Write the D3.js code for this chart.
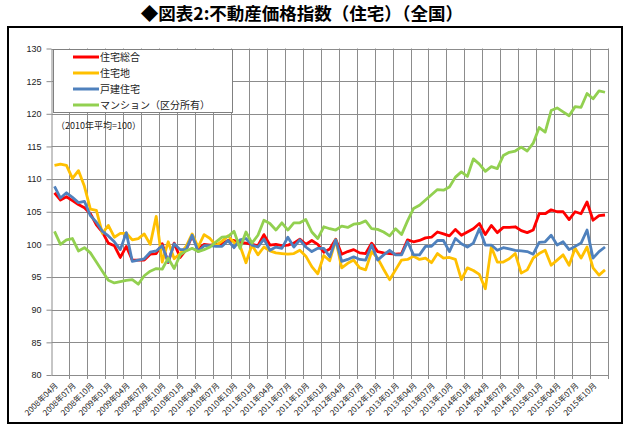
<!DOCTYPE html>
<html>
<head>
<meta charset="utf-8">
<script src="https://d3js.org/d3.v7.min.js"></script>
<style>
  body { margin: 0; background: #fff; }
  svg text { font-family: "Noto Sans CJK JP", "Liberation Sans", sans-serif; }
</style>
</head>
<body>
<div id="chart"></div>
<script>
// 2008年04月 .. 2015年12月 (93 months)
const months = d3.timeMonth.range(new Date(2008, 3, 1), new Date(2016, 0, 1));

const tickLabels = [
  "2008年04月", "2008年07月", "2008年10月", "2009年01月", "2009年04月", "2009年07月",
  "2009年10月", "2010年01月", "2010年04月", "2010年07月", "2010年10月", "2011年01月",
  "2011年04月", "2011年07月", "2011年10月", "2012年01月", "2012年04月", "2012年07月",
  "2012年10月", "2013年01月", "2013年04月", "2013年07月", "2013年10月", "2014年01月",
  "2014年04月", "2014年07月", "2014年10月", "2015年01月", "2015年04月", "2015年07月",
  "2015年10月"
];
const yTicks = [80, 85, 90, 95, 100, 105, 110, 115, 120, 125, 130];

const sogo = [
  107.9, 106.8, 107.3, 106.7, 106.1, 105.6, 104.7, 103.0, 101.9, 100.2,
  99.8, 98.0, 99.7, 97.6, 97.6, 97.6, 98.5, 98.6, 100.1, 97.2,
  100.2, 98.0, 99.2, 101.3, 99.3, 100.0, 99.9, 100.0, 100.1, 100.6,
  100.6, 100.3, 100.2, 100.0, 99.8, 101.5, 99.9, 100.0, 99.8, 99.9,
  100.2, 100.8, 100.0, 100.6, 100.0, 98.8, 99.3, 100.8, 98.5, 98.9,
  99.2, 98.7, 98.6, 100.2, 98.9, 98.7, 98.6, 98.5, 98.6, 100.7,
  100.4, 100.6, 101.0, 101.1, 101.9, 101.6, 101.3, 102.3, 101.4, 101.9,
  102.4, 103.2, 101.5, 102.9, 101.8, 102.6, 102.6, 102.7, 102.1, 101.8,
  102.2, 104.7, 104.7, 105.3, 105.0, 105.0, 103.8, 105.0, 104.7, 106.5,
  103.7, 104.4, 104.5
];
const takuchi = [
  112.1, 112.3, 112.1, 110.1, 111.3, 108.9, 105.4, 105.2, 101.7, 102.9,
  101.1, 101.7, 101.7, 100.7, 100.9, 101.6, 100.0, 104.3, 97.3, 100.4,
  97.8, 98.6, 99.7, 101.6, 99.6, 101.5, 100.9, 99.8, 100.5, 101.3,
  100.3, 99.8, 97.2, 99.9, 98.4, 99.6, 99.0, 98.7, 98.6, 98.5,
  98.6, 99.1, 98.2, 96.6, 95.5, 98.3, 97.5, 100.7, 96.4, 97.1,
  97.6, 96.4, 96.1, 98.9, 97.9, 96.2, 94.6, 96.1, 97.6, 97.7,
  98.2, 97.7, 97.9, 97.2, 98.6, 97.9, 98.0, 97.7, 94.6, 96.4,
  96.0, 95.4, 93.2, 99.6, 97.3, 97.3, 97.8, 98.6, 95.6, 96.1,
  97.9, 98.6, 99.1, 96.8, 97.6, 98.4, 96.8, 99.4, 97.9, 99.6,
  96.4, 95.3, 96.1
];
const kodate = [
  108.9, 107.1, 107.9, 107.2, 106.4, 106.6, 104.4, 103.4, 102.0, 101.3,
  100.4, 99.2, 101.8, 97.4, 97.6, 97.8, 98.8, 99.0, 99.8, 97.3,
  100.1, 99.2, 99.2, 101.4, 98.9, 99.8, 99.8, 99.7, 99.7, 100.6,
  99.5, 100.7, 100.9, 99.9, 99.6, 100.8, 99.1, 99.6, 99.4, 101.1,
  99.6, 100.7, 99.6, 98.9, 99.4, 99.4, 98.1, 100.7, 97.4, 97.7,
  98.1, 97.7, 97.6, 99.9, 97.6, 98.4, 99.1, 98.4, 98.4, 100.4,
  98.4, 98.4, 99.7, 99.7, 100.6, 100.6, 98.9, 100.9, 100.1, 99.6,
  100.2, 102.4, 99.9, 99.9, 99.1, 99.5, 99.3, 99.1, 99.0, 98.9,
  98.5, 100.3, 100.4, 101.4, 99.9, 100.4, 99.2, 99.7, 100.2, 102.2,
  97.9, 98.9, 99.6
];
const mansion = [
  102.0, 100.0, 100.7, 100.9, 99.0, 99.5, 98.7, 97.3, 95.9, 94.5,
  94.1, 94.3, 94.5, 94.6, 93.9, 95.2, 95.9, 96.3, 96.2, 97.9,
  96.3, 98.4, 99.0, 99.4, 98.9, 99.2, 99.6, 100.4, 101.1, 101.2,
  102.0, 99.4, 101.9, 100.2, 101.4, 103.7, 103.2, 102.2, 103.3, 102.2,
  103.3, 103.3, 103.8, 101.9, 100.9, 102.7, 102.4, 102.2, 102.8, 102.6,
  103.1, 103.2, 103.6, 102.4, 102.3, 101.9, 101.3, 102.4, 101.5, 103.6,
  105.5, 106.0, 106.8, 107.6, 108.4, 108.3, 108.8, 110.3, 111.1, 110.4,
  113.1, 112.3, 111.2, 111.9, 111.6, 113.6, 114.1, 114.3, 114.9, 114.3,
  115.5, 117.9, 117.2, 120.5, 120.9, 120.3, 119.7, 121.1, 121.0, 123.1,
  122.3, 123.5, 123.3
];

const seriesNames = ["住宅総合", "住宅地", "戸建住宅", "マンション（区分所有）"];
const seriesColors = ["#ff0000", "#ffc000", "#4f81bd", "#92d050"];
const seriesValues = [sogo, takuchi, kodate, mansion];

const W = 629, H = 430;
const plot = { left: 51.5, right: 608, top: 48.5, bottom: 375 };

const svg = d3.select("#chart")
    .append("svg")
    .attr("width", W)
    .attr("height", H);

// title
svg.append("text")
    .attr("x", 302)
    .attr("y", 20)
    .attr("text-anchor", "middle")
    .style("font-size", "17.5px")
    .style("font-weight", "bold")
    .text("◆図表2:不動産価格指数（住宅）（全国）");

// outer frame
svg.append("rect")
    .attr("x", 8)
    .attr("y", 27)
    .attr("width", 614)
    .attr("height", 396)
    .attr("fill", "none")
    .attr("stroke", "#000")
    .attr("stroke-width", 2);

const x = d3.scaleBand()
    .domain(d3.range(months.length))
    .range([plot.left, plot.right])
    .padding(0);

const y = d3.scaleLinear()
    .domain([80, 130])
    .range([plot.bottom, plot.top]);

const gridColor = "#8c8c8c";

// horizontal gridlines
svg.append("g")
    .selectAll("line")
    .data(yTicks)
    .enter().append("line")
    .attr("x1", plot.left)
    .attr("x2", plot.right)
    .attr("y1", d => Math.round(y(d)) + 0.5)
    .attr("y2", d => Math.round(y(d)) + 0.5)
    .attr("stroke", gridColor)
    .attr("stroke-width", 1);

// vertical gridlines every 3 months (category boundaries)
const vIdx = d3.range(3, months.length, 3);
svg.append("g")
    .selectAll("line")
    .data(vIdx)
    .enter().append("line")
    .attr("x1", d => Math.round(x(d)) + 0.5)
    .attr("x2", d => Math.round(x(d)) + 0.5)
    .attr("y1", plot.top)
    .attr("y2", plot.bottom + 4)
    .attr("stroke", gridColor)
    .attr("stroke-width", 1);

svg.append("line")
    .attr("x1", plot.right + 0.5).attr("x2", plot.right + 0.5)
    .attr("y1", plot.top).attr("y2", plot.bottom + 4)
    .attr("stroke", gridColor);

// y axis
const yAxis = svg.append("g")
    .attr("transform", `translate(${plot.left},0)`)
    .call(d3.axisLeft(y).tickValues(yTicks).tickSize(5).tickSizeOuter(0));
yAxis.select(".domain").attr("stroke", gridColor);
yAxis.selectAll(".tick line").attr("stroke", gridColor);
yAxis.selectAll("text")
    .attr("x", -10)
    .style("font-family", "'Liberation Sans', Arial, sans-serif")
    .style("font-size", "9px")
    .attr("fill", "#222");

// x axis
const xAxis = svg.append("g")
    .attr("transform", `translate(0,${plot.bottom})`)
    .call(d3.axisBottom(x)
        .tickValues(d3.range(0, months.length, 3))
        .tickFormat(i => tickLabels[i / 3])
        .tickSize(0));
xAxis.select(".domain").attr("stroke", gridColor);
xAxis.selectAll("text")
    .attr("y", 0)
    .attr("dy", 0)
    .attr("text-anchor", "end")
    .attr("transform", "translate(4,11) rotate(-45)")
    .style("font-size", "8px")
    .attr("fill", "#222");

// lines
const line = d3.line()
    .x((d, i) => x(i) + x.bandwidth() / 2)
    .y(d => y(d));

svg.append("g")
    .selectAll("path")
    .data(seriesValues)
    .enter().append("path")
    .attr("d", d => line(d))
    .attr("fill", "none")
    .attr("stroke", (d, i) => seriesColors[i])
    .attr("stroke-width", 2.8)
    .attr("stroke-linejoin", "round");

// legend
const legend = svg.append("g");
legend.append("rect")
    .attr("x", 53.5)
    .attr("y", 49.5)
    .attr("width", 179)
    .attr("height", 63)
    .attr("fill", "#fff")
    .attr("stroke", "#808080");

seriesNames.forEach((name, i) => {
    const ly = 57 + i * 16;
    legend.append("line")
        .attr("x1", 73)
        .attr("x2", 99)
        .attr("y1", ly)
        .attr("y2", ly)
        .attr("stroke", seriesColors[i])
        .attr("stroke-width", 3);
    legend.append("text")
        .attr("x", 100)
        .attr("y", ly + 3.5)
        .style("font-size", "10px")
        .attr("fill", "#222")
        .text(name);
});

svg.append("text")
    .attr("x", 56)
    .attr("y", 129)
    .style("font-size", "9px")
    .attr("fill", "#222")
    .text("（2010年平均=100）");
</script>
</body>
</html>
